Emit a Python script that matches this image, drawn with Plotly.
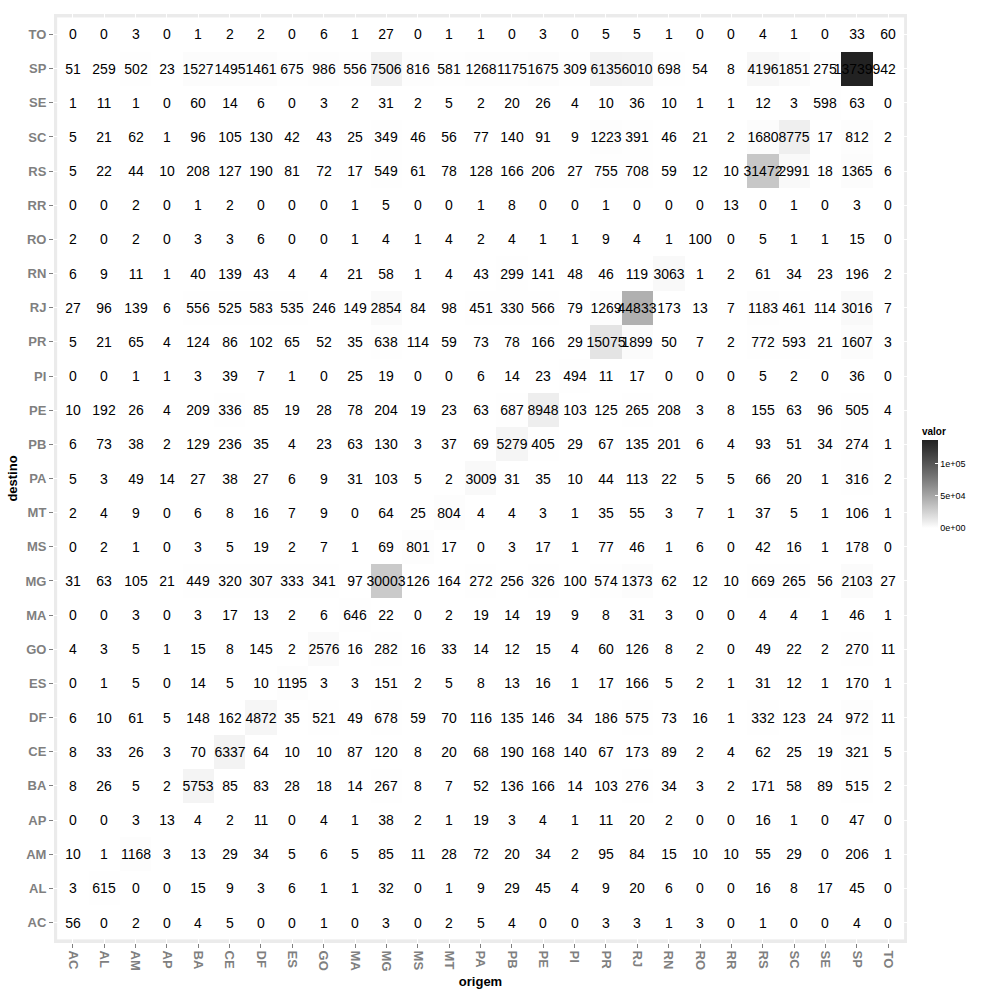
import numpy as np
import plotly.graph_objects as go

origem = ["AC","AL","AM","AP","BA","CE","DF","ES","GO","MA","MG","MS","MT","PA",
          "PB","PE","PI","PR","RJ","RN","RO","RR","RS","SC","SE","SP","TO"]
destino = origem[:]  # bottom (AC) to top (TO)

row_TO = [0,0,3,0,1,2,2,0,6,1,27,0,1,1,0,3,0,5,5,1,0,0,4,1,0,33,60]
row_SP = [51,259,502,23,1527,1495,1461,675,986,556,7506,816,581,1268,1175,1675,309,6135,6010,698,54,8,4196,1851,275,137399,42]
row_SE = [1,11,1,0,60,14,6,0,3,2,31,2,5,2,20,26,4,10,36,10,1,1,12,3,598,63,0]
row_SC = [5,21,62,1,96,105,130,42,43,25,349,46,56,77,140,91,9,1223,391,46,21,2,1680,8775,17,812,2]
row_RS = [5,22,44,10,208,127,190,81,72,17,549,61,78,128,166,206,27,755,708,59,12,10,31472,2991,18,1365,6]
row_RR = [0,0,2,0,1,2,0,0,0,1,5,0,0,1,8,0,0,1,0,0,0,13,0,1,0,3,0]
row_RO = [2,0,2,0,3,3,6,0,0,1,4,1,4,2,4,1,1,9,4,1,100,0,5,1,1,15,0]
row_RN = [6,9,11,1,40,139,43,4,4,21,58,1,4,43,299,141,48,46,119,3063,1,2,61,34,23,196,2]
row_RJ = [27,96,139,6,556,525,583,535,246,149,2854,84,98,451,330,566,79,1269,44833,173,13,7,1183,461,114,3016,7]
row_PR = [5,21,65,4,124,86,102,65,52,35,638,114,59,73,78,166,29,15075,1899,50,7,2,772,593,21,1607,3]
row_PI = [0,0,1,1,3,39,7,1,0,25,19,0,0,6,14,23,494,11,17,0,0,0,5,2,0,36,0]
row_PE = [10,192,26,4,209,336,85,19,28,78,204,19,23,63,687,8948,103,125,265,208,3,8,155,63,96,505,4]
row_PB = [6,73,38,2,129,236,35,4,23,63,130,3,37,69,5279,405,29,67,135,201,6,4,93,51,34,274,1]
row_PA = [5,3,49,14,27,38,27,6,9,31,103,5,2,3009,31,35,10,44,113,22,5,5,66,20,1,316,2]
row_MT = [2,4,9,0,6,8,16,7,9,0,64,25,804,4,4,3,1,35,55,3,7,1,37,5,1,106,1]
row_MS = [0,2,1,0,3,5,19,2,7,1,69,801,17,0,3,17,1,77,46,1,6,0,42,16,1,178,0]
row_MG = [31,63,105,21,449,320,307,333,341,97,30003,126,164,272,256,326,100,574,1373,62,12,10,669,265,56,2103,27]
row_MA = [0,0,3,0,3,17,13,2,6,646,22,0,2,19,14,19,9,8,31,3,0,0,4,4,1,46,1]
row_GO = [4,3,5,1,15,8,145,2,2576,16,282,16,33,14,12,15,4,60,126,8,2,0,49,22,2,270,11]
row_ES = [0,1,5,0,14,5,10,1195,3,3,151,2,5,8,13,16,1,17,166,5,2,1,31,12,1,170,1]
row_DF = [6,10,61,5,148,162,4872,35,521,49,678,59,70,116,135,146,34,186,575,73,16,1,332,123,24,972,11]
row_CE = [8,33,26,3,70,6337,64,10,10,87,120,8,20,68,190,168,140,67,173,89,2,4,62,25,19,321,5]
row_BA = [8,26,5,2,5753,85,83,28,18,14,267,8,7,52,136,166,14,103,276,34,3,2,171,58,89,515,2]
row_AP = [0,0,3,13,4,2,11,0,4,1,38,2,1,19,3,4,1,11,20,2,0,0,16,1,0,47,0]
row_AM = [10,1,1168,3,13,29,34,5,6,5,85,11,28,72,20,34,2,95,84,15,10,10,55,29,0,206,1]
row_AL = [3,615,0,0,15,9,3,6,1,1,32,0,1,9,29,45,4,9,20,6,0,0,16,8,17,45,0]
row_AC = [56,0,2,0,4,5,0,0,1,0,3,0,2,5,4,0,0,3,3,1,3,0,1,0,0,4,0]

legend_ticks = [0, 50000, 100000]
legend_labels = ["0e+00", "5e+04", "1e+05"]

rows = [row_AC,row_AL,row_AM,row_AP,row_BA,row_CE,row_DF,row_ES,row_GO,row_MA,row_MG,
        row_MS,row_MT,row_PA,row_PB,row_PE,row_PI,row_PR,row_RJ,row_RN,row_RO,row_RR,
        row_RS,row_SC,row_SE,row_SP,row_TO]
z = np.array(rows, dtype=float)
text = [[str(v) for v in r] for r in rows]

# Lab-like interpolation white -> dark grey (as ggplot gradient)
def lab_grey(L):
    Y = ((L + 16) / 116) ** 3 if L > 8 else L / 903.3
    v = 1.055 * Y ** (1 / 2.4) - 0.055 if Y > 0.0031308 else 12.92 * Y
    c = int(round(max(0, min(1, v)) * 255))
    return f"rgb({c},{c},{c})"

L_hi = 13.0
colorscale = [[t, lab_grey(100 - t * (100 - L_hi))] for t in np.linspace(0, 1, 21)]

font_family = "Liberation Sans, Arial, Helvetica, sans-serif"

fig = go.Figure(go.Heatmap(
    x=origem, y=destino, z=z,
    text=text, texttemplate="%{text}",
    textfont=dict(family=font_family, size=14, color="black"),
    colorscale=colorscale, zmin=0, zmax=float(z.max()),
    xgap=0, ygap=0,
    colorbar=dict(
        title=dict(text="<b>valor</b>", side="top",
                   font=dict(family=font_family, size=10, color="black")),
        tickvals=legend_ticks, ticktext=legend_labels,
        tickfont=dict(family=font_family, size=9, color="black"),
        ticks="inside", ticklen=3, tickcolor="white",
        outlinewidth=0, thickness=16, thicknessmode="pixels",
        len=104, lenmode="pixels",
        xpad=0, ypad=0,
        x=(922 - 48) / 859, xanchor="left",
        y=(943 - 528) / 929, yanchor="bottom",
    ),
))

axis_common = dict(
    type="category", showgrid=True, gridcolor="white", gridwidth=1,
    zeroline=False, ticks="outside", ticklen=4, tickcolor="#7f7f7f", tickwidth=1,
    tickfont=dict(family=font_family, size=13, color="#7f7f7f", weight="bold"),
    showline=False,
)

fig.update_layout(
    width=1000, height=1000,
    margin=dict(l=48, r=93, t=14, b=57),
    paper_bgcolor="white", plot_bgcolor="#ebebeb",
    xaxis=dict(axis_common, range=[-0.6, 26.6], tickangle=90,
               title=dict(text="<b>origem</b>", standoff=6,
                          font=dict(family=font_family, size=13, color="black"))),
    yaxis=dict(axis_common, range=[-0.6, 26.6],
               title=dict(text="<b>destino</b>", standoff=4,
                          font=dict(family=font_family, size=13, color="black"))),
)

fig.write_html("out.html")
